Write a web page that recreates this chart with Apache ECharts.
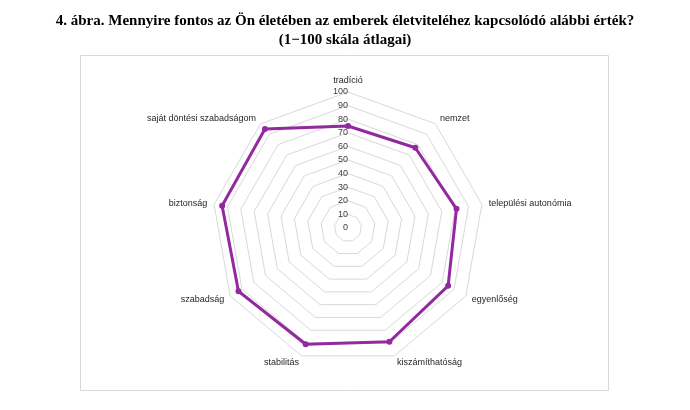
<!DOCTYPE html>
<html>
<head>
<meta charset="utf-8">
<script src="https://cdn.jsdelivr.net/npm/echarts@6/dist/echarts.min.js"></script>
<style>
html,body{margin:0;padding:0;background:#fff;}
#chart{width:690px;height:410px;}
</style>
</head>
<body>
<div id="chart"></div>
<script>
// Data (clockwise from top)
const categories = ['tradíció', 'nemzet', 'települési autonómia', 'egyenlőség', 'kiszámíthatóság', 'stabilitás', 'szabadság', 'biztonság', 'saját döntési szabadságom'];
const values = [75, 77, 81, 85, 89, 91, 93, 94, 95];
const axisMin = 0;
const axisMax = 100;
const axisStep = 10;

// ECharts places indicators counter-clockwise; reorder so they read clockwise
const order = [0].concat(categories.map((_, i) => i).slice(1).reverse());
const indicator = order.map((i, k) => {
  const o = { name: categories[i], min: axisMin, max: axisMax };
  if (k === 0) o.axisLabel = { show: true };
  return o;
});
const seriesValues = order.map(i => values[i]);

const chart = echarts.init(document.getElementById('chart'), null, { renderer: 'canvas' });
chart.setOption({
  backgroundColor: '#fff',
  animation: false,
  title: {
    text: '4. ábra. Mennyire fontos az Ön életében az emberek életviteléhez kapcsolódó alábbi érték?\n(1−100 skála átlagai)',
    left: 340,
    top: 7,
    textAlign: 'center',
    textStyle: {
      fontFamily: 'Liberation Serif',
      fontWeight: 'bold',
      fontSize: 15,
      lineHeight: 19,
      color: '#000'
    }
  },
  graphic: [{
    type: 'rect',
    shape: { x: 80.5, y: 55.5, width: 528, height: 335 },
    style: { fill: 'none', stroke: '#d9d9d9', lineWidth: 1 },
    silent: true,
    z: -1
  }],
  radar: {
    center: [348, 228],
    radius: 136,
    startAngle: 90,
    splitNumber: (axisMax - axisMin) / axisStep,
    shape: 'polygon',
    axisName: {
      color: '#262626',
      fontFamily: 'Liberation Sans',
      fontSize: 9
    },
    nameGap: 7,
    axisLine: { show: false },
    axisTick: { show: false },
    splitArea: { show: false },
    splitLine: { lineStyle: { color: '#d9d9d9', width: 1 } },
    axisLabel: {
      show: false,
      color: '#404040',
      fontFamily: 'Liberation Sans',
      fontSize: 9,
      margin: 0
    },
    indicator: indicator
  },
  series: [{
    type: 'radar',
    symbol: 'circle',
    symbolSize: 6,
    lineStyle: { color: '#92299e', width: 3 },
    itemStyle: { color: '#92299e' },
    data: [{ value: seriesValues }]
  }]
});
</script>
</body>
</html>
